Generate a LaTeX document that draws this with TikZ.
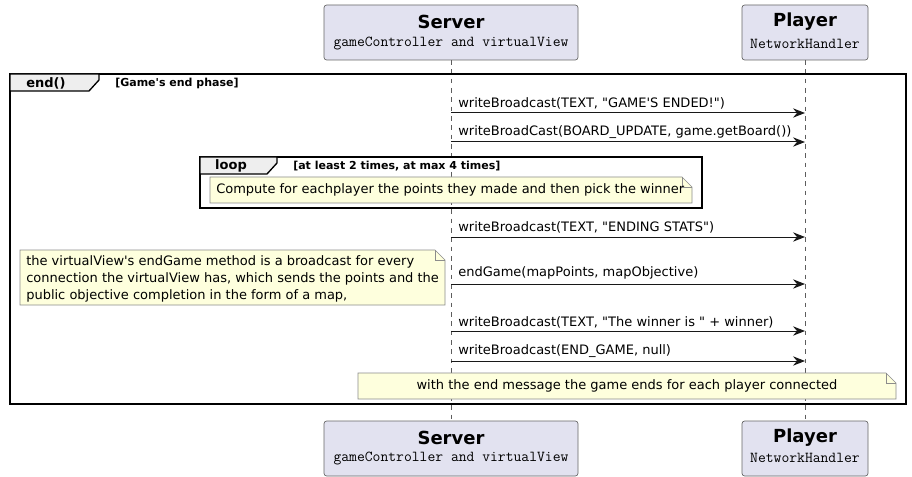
\documentclass[tikz,border=0pt]{standalone}
\usepackage{fontspec}
\setmainfont{DejaVu Sans}[Ligatures=TeXOff]
\usetikzlibrary{arrows.meta}
\definecolor{partfill}{HTML}{E2E2F0}
\definecolor{notefill}{HTML}{FEFFDD}
\definecolor{tabfill}{HTML}{EEEEEE}
\definecolor{lineclr}{HTML}{181818}
\tikzset{
  x=0.75pt, y=-0.75pt,
  partbox/.style={draw=black!60, fill=partfill, rounded corners=2pt, line width=0.5pt},
  ptitle/.style={font=\fontsize{13.5pt}{15pt}\selectfont\bfseries, inner sep=0pt},
  psub/.style={font=\ttfamily\fontsize{11.4pt}{13pt}\selectfont, inner sep=0pt},
  lifeline/.style={draw=lineclr!70, line width=0.5pt, dash pattern=on 3.5pt off 3.5pt},
  msg/.style={draw=lineclr, line width=0.75pt, -{Stealth[length=9pt,width=7pt,inset=3pt]}},
  msglabel/.style={font=\fontsize{9.75pt}{12pt}\selectfont, inner sep=0pt, anchor=west},
  framebox/.style={draw=black, line width=1.3pt},
  tabbox/.style={draw=black, line width=1pt, fill=tabfill},
  tabtitle/.style={font=\fontsize{9.75pt}{12pt}\selectfont\bfseries, inner sep=0pt},
  guard/.style={font=\fontsize{8.25pt}{10pt}\selectfont\bfseries, inner sep=0pt, anchor=west},
  notebox/.style={draw=black!45, fill=notefill, line width=0.5pt},
  notetext/.style={font=\fontsize{9.75pt}{12.6pt}\selectfont, inner sep=0pt, align=left},
}
\begin{document}
\begin{tikzpicture}
\useasboundingbox[fill=white] (0,0) rectangle (912,477);
% lifelines
\coordinate (sTop) at (451,60);
\coordinate (sBot) at (451,421);
\coordinate (pTop) at (805,60);
\coordinate (pBot) at (805,421);
\draw[lifeline] (sTop) -- (sBot);
\draw[lifeline] (pTop) -- (pBot);
% participants top
\draw[partbox] (324,5) rectangle (578,60);
\node[ptitle] (serverT) at (451,22) {Server};
\node[psub] (serverTs) at (451,44) {gameController and virtualView};
\draw[partbox] (742,5) rectangle (868,60);
\node[ptitle] (playerT) at (805,22) {Player};
\node[psub] (playerTs) at (805,44) {NetworkHandler};
% participants bottom
\draw[partbox] (324,421) rectangle (578,476);
\node[ptitle] (serverB) at (451,438) {Server};
\node[psub] (serverBs) at (451,458) {gameController and virtualView};
\draw[partbox] (742,421) rectangle (868,476);
\node[ptitle] (playerB) at (805,438) {Player};
\node[psub] (playerBs) at (805,458) {NetworkHandler};
% outer frame
\draw[framebox] (10,74) rectangle (906,404);
\draw[tabbox] (10,74) -- (99,74) -- (99,80) -- (89,91) -- (10,91) -- cycle;
\node[tabtitle] (endT) at (46,83) {end()};
\node[guard] (endG) at (115,83) {[Game's end phase]};
% messages
\coordinate (m1s) at (451,113); \coordinate (m1e) at (805,113);
\draw[msg] (m1s) -- (m1e);
\node[msglabel] (l1) at (458,103) {writeBroadcast(TEXT, "GAME'S ENDED!")};
\coordinate (m2s) at (451,142); \coordinate (m2e) at (805,142);
\draw[msg] (m2s) -- (m2e);
\node[msglabel] (l2) at (458,132) {writeBroadCast(BOARD\_UPDATE, game.getBoard())};
% loop frame
\draw[framebox] (200,157) rectangle (702,208);
\draw[tabbox] (200,157) -- (277,157) -- (277,163) -- (267,174) -- (200,174) -- cycle;
\node[tabtitle] (loopT) at (231,166) {loop};
\node[guard] (loopG) at (293,166) {[at least 2 times, at max 4 times]};
\draw[notebox] (210,177) -- (682,177) -- (692,187) -- (692,203) -- (210,203) -- cycle;
\draw[notebox, fill=none] (682,177) -- (682,187) -- (692,187);
\node[notetext, anchor=west] (n1) at (216,190) {Compute for eachplayer the points they made and then pick the winner};
% message 3
\coordinate (m3s) at (451,237); \coordinate (m3e) at (805,237);
\draw[msg] (m3s) -- (m3e);
\node[msglabel] (l3) at (458,227) {writeBroadcast(TEXT, "ENDING STATS")};
% big note
\draw[notebox] (20,250) -- (435,250) -- (445,260) -- (445,305) -- (20,305) -- cycle;
\draw[notebox, fill=none] (435,250) -- (435,260) -- (445,260);
\node[notetext, anchor=north west] (n2) at (26,255.5) {the virtualView's endGame method is a broadcast for every\\connection the virtualView has, which sends the points and the\\public objective completion in the form of a map,};
% message 4
\coordinate (m4s) at (451,284); \coordinate (m4e) at (805,284);
\draw[msg] (m4s) -- (m4e);
\node[msglabel] (l4) at (458,273) {endGame(mapPoints, mapObjective)};
% message 5
\coordinate (m5s) at (451,331); \coordinate (m5e) at (805,331);
\draw[msg] (m5s) -- (m5e);
\node[msglabel] (l5) at (458,322) {writeBroadcast(TEXT, "The winner is " + winner)};
% message 6
\coordinate (m6s) at (451,361); \coordinate (m6e) at (805,361);
\draw[msg] (m6s) -- (m6e);
\node[msglabel] (l6) at (458,351) {writeBroadcast(END\_GAME, null)};
% bottom note
\draw[notebox] (358,373) -- (886,373) -- (896,383) -- (896,399) -- (358,399) -- cycle;
\draw[notebox, fill=none] (886,373) -- (886,383) -- (896,383);
\node[notetext] (n3) at (627,386) {with the end message the game ends for each player connected};
\end{tikzpicture}
\end{document}
